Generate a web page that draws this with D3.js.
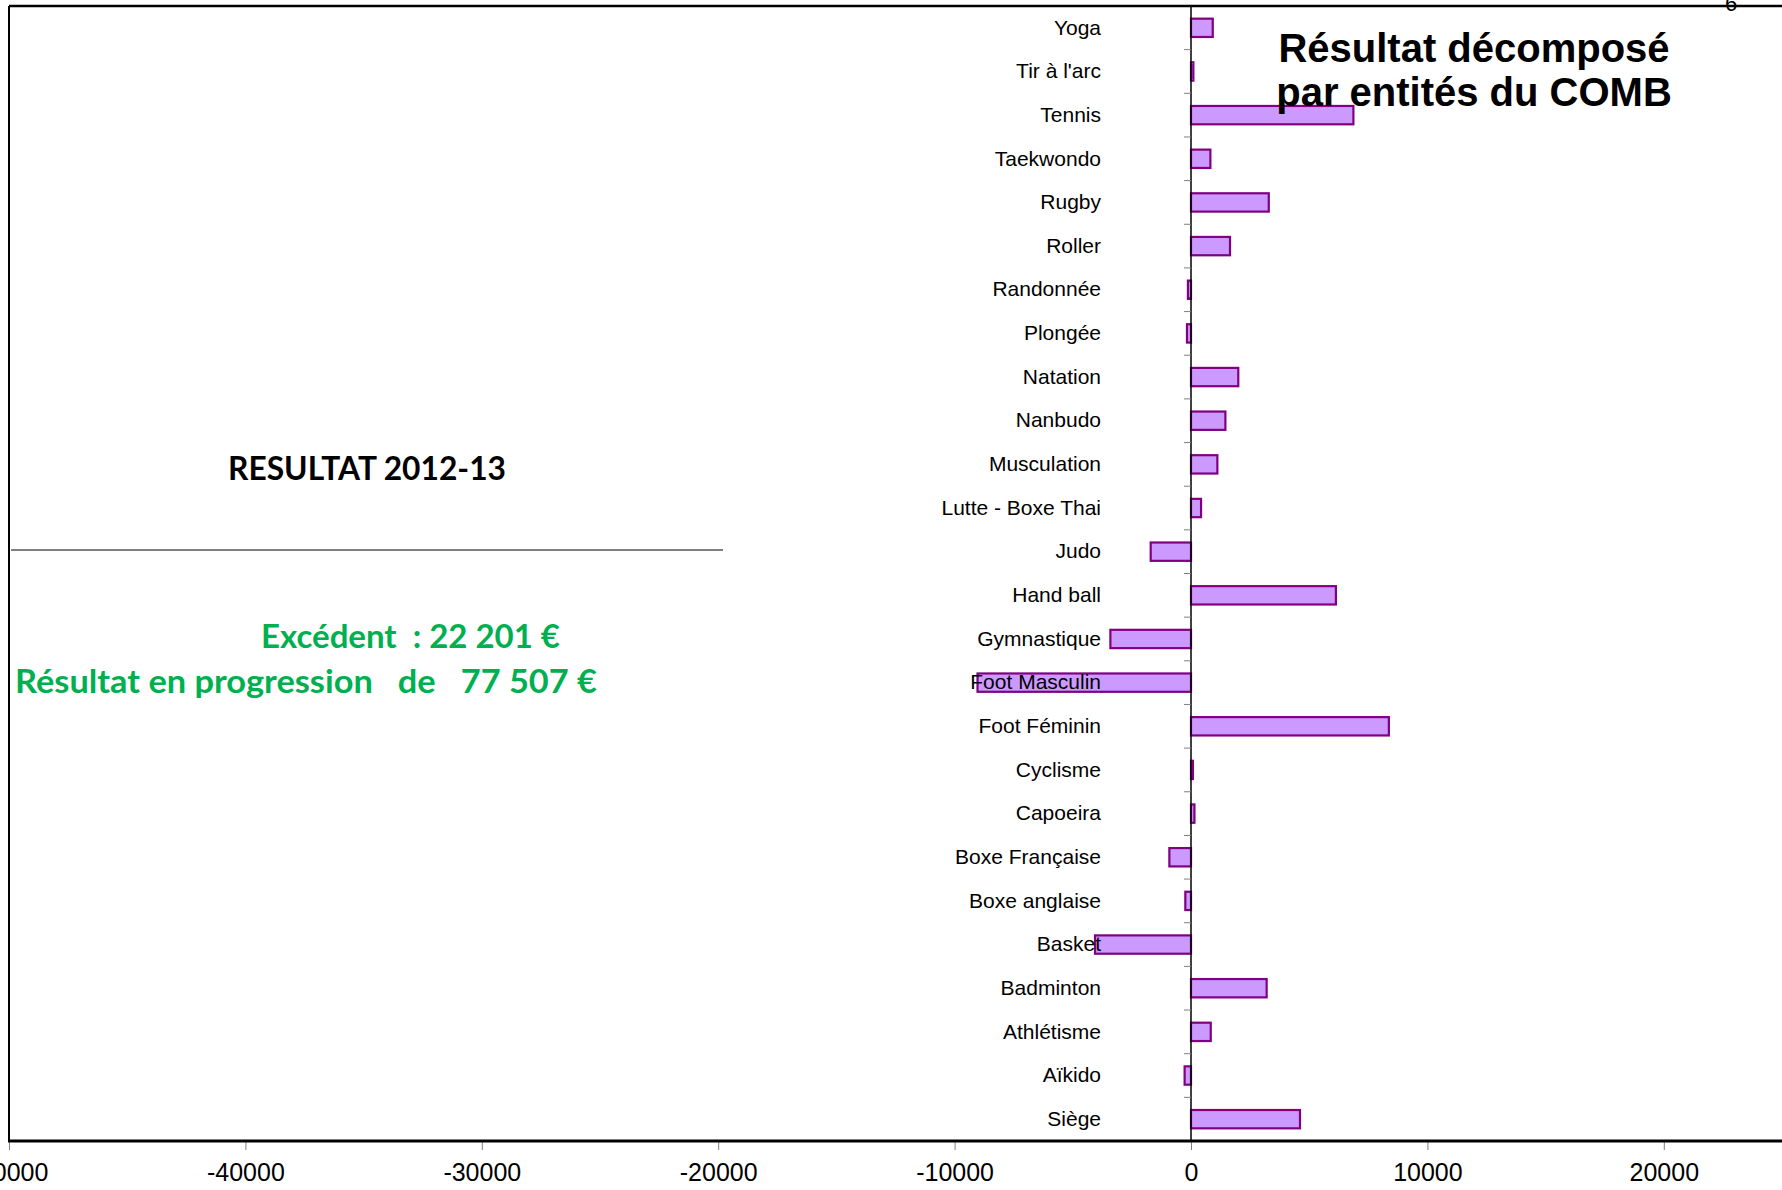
<!DOCTYPE html>
<html>
<head>
<meta charset="utf-8">
<script src="https://cdn.jsdelivr.net/npm/d3@7"></script>
<style>
  html, body { margin: 0; padding: 0; background: #fff; overflow: hidden; }
</style>
</head>
<body>
<script>
(function () {
  var categories = [
    "Yoga", "Tir à l'arc", "Tennis", "Taekwondo", "Rugby", "Roller",
    "Randonnée", "Plongée", "Natation", "Nanbudo", "Musculation",
    "Lutte - Boxe Thai", "Judo", "Hand ball", "Gymnastique", "Foot Masculin",
    "Foot Féminin", "Cyclisme", "Capoeira", "Boxe Française", "Boxe anglaise",
    "Basket", "Badminton", "Athlétisme", "Aïkido", "Siège"
  ];

  var results = [
    920, 100, 6870, 820, 3290, 1650,
    -130, -170, 2000, 1455, 1115,
    425, -1705, 6130, -3410, -9030,
    8370, 80, 145, -915, -240,
    -4060, 3200, 835, -270, 4610
  ];

  var xTicks = [-50000, -40000, -30000, -20000, -10000, 0, 10000, 20000];

  var titleLines = ["Résultat décomposé", "par entités du COMB"];

  var W = 1782, H = 1190;
  var left = 9, right = 1782, top = 6, bottom = 1141;

  var svg = d3.select("body")
    .append("svg")
    .attr("width", W)
    .attr("height", H);

  var x = d3.scaleLinear()
    .domain([-50000, 25000])
    .range([left, right]);

  var y = d3.scaleBand()
    .domain(categories)
    .range([top, bottom])
    .paddingInner(0.58)
    .paddingOuter(0.29);

  var x0 = x(0);

  // borders of the plot area
  svg.append("line")
    .attr("x1", left).attr("x2", W)
    .attr("y1", top).attr("y2", top)
    .style("stroke", "#000")
    .style("stroke-width", 2.5);

  svg.append("line")
    .attr("x1", left).attr("x2", left)
    .attr("y1", top).attr("y2", bottom)
    .style("stroke", "#000")
    .style("stroke-width", 2);

  // bars
  svg.selectAll("rect.bar")
    .data(results)
  .enter()
    .append("rect")
    .attr("class", "bar")
    .attr("x", function (d) { return Math.min(x(d), x0); })
    .attr("y", function (d, i) { return y(categories[i]); })
    .attr("width", function (d) { return Math.max(Math.abs(x(d) - x0), 1); })
    .attr("height", y.bandwidth())
    .style("fill", "#cc99ff")
    .style("stroke", "#800080")
    .style("stroke-width", 2.2);

  // vertical axis at zero: line + ticks at band boundaries
  svg.append("line")
    .attr("x1", x0).attr("x2", x0)
    .attr("y1", top).attr("y2", bottom)
    .style("stroke", "#000")
    .style("stroke-width", 1.5);

  var bounds = d3.range(1, categories.length);
  svg.selectAll("line.ytick")
    .data(bounds)
  .enter()
    .append("line")
    .attr("class", "ytick")
    .attr("x1", x0 - 7).attr("x2", x0)
    .attr("y1", function (i) { return top + (bottom - top) * i / categories.length; })
    .attr("y2", function (i) { return top + (bottom - top) * i / categories.length; })
    .style("stroke", "#808080")
    .style("stroke-width", 1);

  // category labels
  var yAxis = d3.axisLeft(y).tickSize(0).tickPadding(90);
  var gy = svg.append("g")
    .attr("transform", "translate(" + x0 + ",0)")
    .call(yAxis);
  gy.select(".domain").remove();
  gy.selectAll("text")
    .style("font-family", "'Liberation Sans', Arial, sans-serif")
    .style("font-size", "21px")
    .style("fill", "#000");

  // bottom axis
  var xAxis = d3.axisBottom(x)
    .tickValues(xTicks)
    .tickSize(9)
    .tickPadding(13)
    .tickFormat(function (d) { return String(d); });
  var gx = svg.append("g")
    .attr("transform", "translate(0," + bottom + ")")
    .call(xAxis);
  gx.select(".domain").remove();
  gx.selectAll(".tick line").style("stroke", "#808080");
  gx.selectAll("text")
    .style("font-family", "'Liberation Sans', Arial, sans-serif")
    .style("font-size", "25px")
    .style("fill", "#000");

  svg.append("line")
    .attr("x1", left - 1).attr("x2", W)
    .attr("y1", bottom).attr("y2", bottom)
    .style("stroke", "#000")
    .style("stroke-width", 3);

  // title
  svg.selectAll("text.title")
    .data(titleLines)
  .enter()
    .append("text")
    .attr("class", "title")
    .attr("x", 1474)
    .attr("y", function (d, i) { return 62 + i * 44; })
    .attr("text-anchor", "middle")
    .style("font-family", "'Liberation Sans', Arial, sans-serif")
    .style("font-weight", "bold")
    .style("font-size", "40px")
    .style("fill", "#000")
    .text(function (d) { return d; });

  // page number, cut by the top edge
  svg.append("text")
    .attr("x", 1731)
    .attr("y", 11)
    .attr("text-anchor", "middle")
    .style("font-family", "'Liberation Sans', Arial, sans-serif")
    .style("font-size", "22px")
    .text("6");

  // left panel
  svg.append("text")
    .attr("x", 367)
    .attr("y", 480)
    .attr("text-anchor", "middle")
    .attr("textLength", 278)
    .attr("lengthAdjust", "spacingAndGlyphs")
    .style("font-family", "Lato, 'Open Sans', sans-serif")
    .style("font-weight", "bold")
    .style("font-size", "32px")
    .text("RESULTAT 2012-13");

  svg.append("line")
    .attr("x1", 11).attr("x2", 723)
    .attr("y1", 550).attr("y2", 550)
    .style("stroke", "#000")
    .style("stroke-width", 1);

  svg.append("text")
    .attr("x", 261)
    .attr("y", 648)
    .attr("textLength", 299)
    .attr("lengthAdjust", "spacingAndGlyphs")
    .style("font-family", "Lato, 'Open Sans', sans-serif")
    .style("font-weight", "bold")
    .style("font-size", "33px")
    .style("fill", "#00b050")
    .style("white-space", "pre")
    .text("Excédent  : 22 201 €");

  svg.append("text")
    .attr("x", 15)
    .attr("y", 693)
    .attr("textLength", 582)
    .attr("lengthAdjust", "spacingAndGlyphs")
    .style("font-family", "Lato, 'Open Sans', sans-serif")
    .style("font-weight", "bold")
    .style("font-size", "33px")
    .style("fill", "#00b050")
    .style("white-space", "pre")
    .text("Résultat en progression   de   77 507 €");
})();
</script>
</body>
</html>
